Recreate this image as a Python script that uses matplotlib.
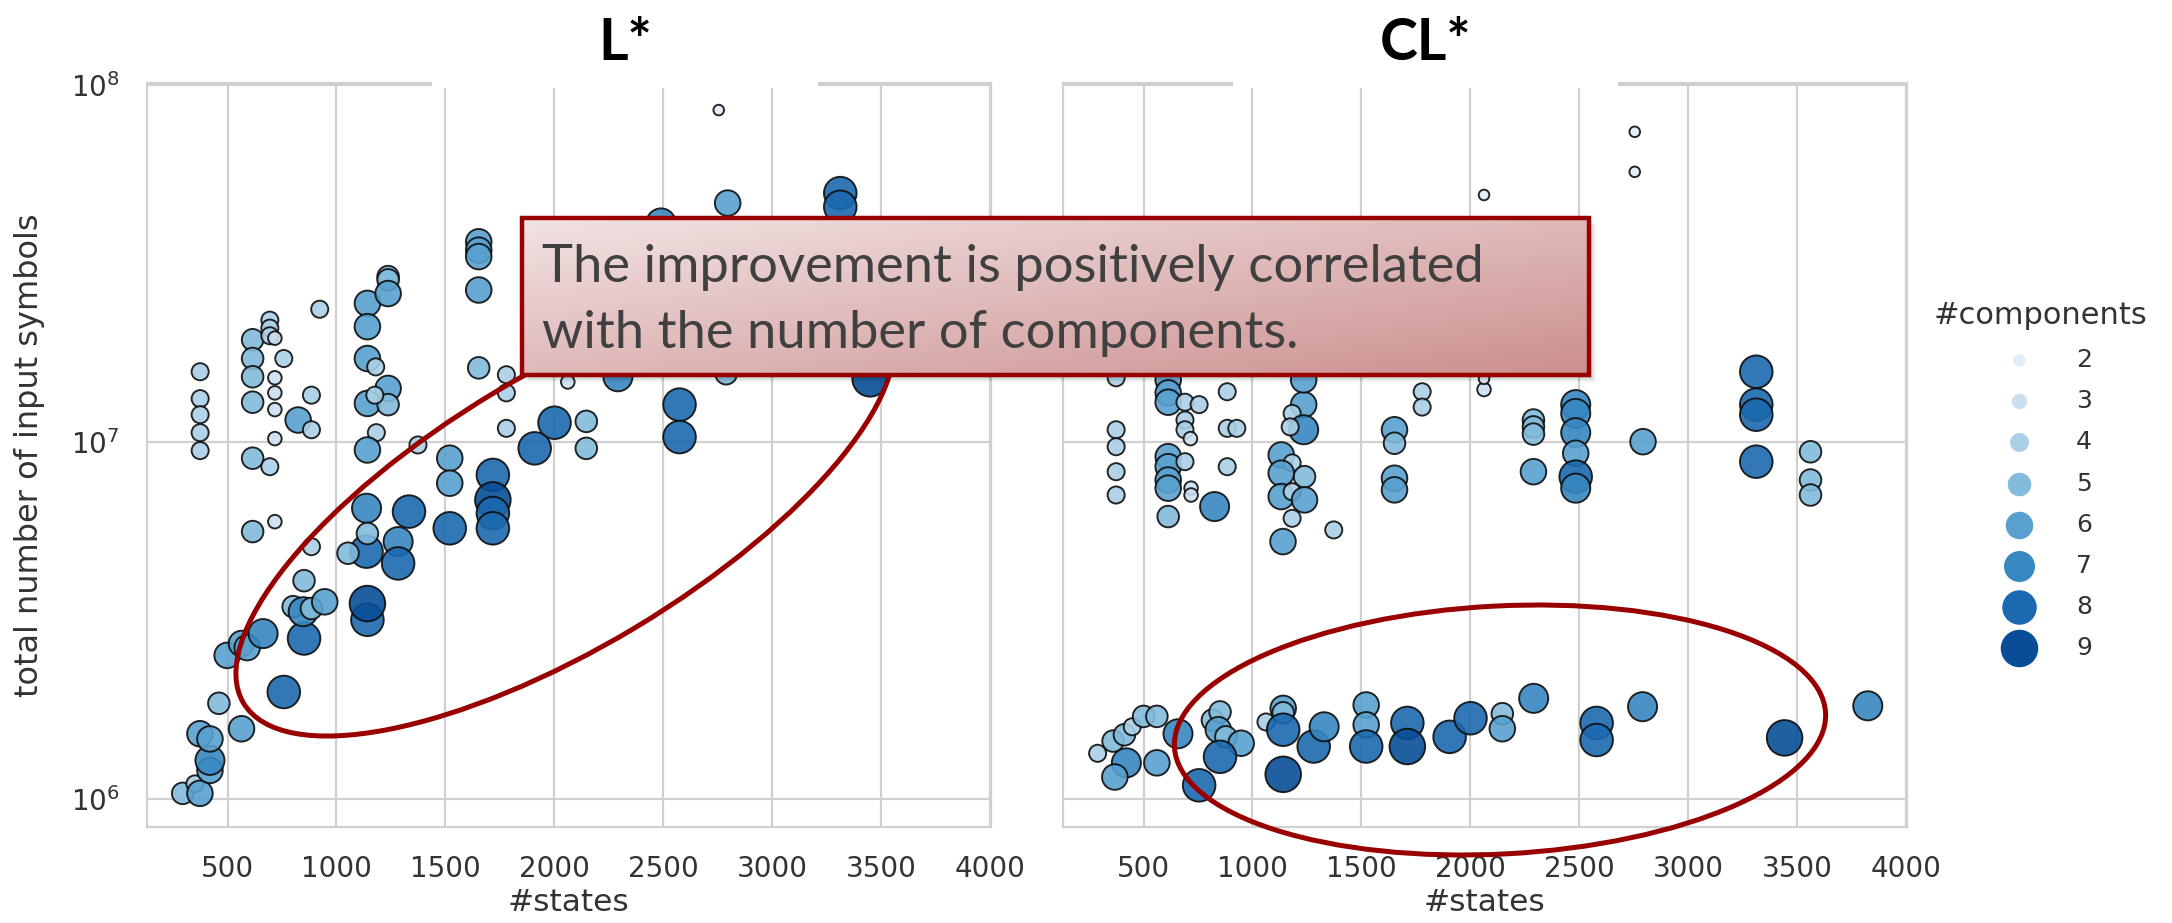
import numpy as np
import matplotlib
matplotlib.use("Agg")
import matplotlib.pyplot as plt
from matplotlib.patches import Ellipse, Rectangle
from matplotlib.lines import Line2D

# ---------------- data ----------------
# L* learner: number of states, total input symbols, number of components
lstar_states = [
    294, 350, 373, 419, 419, 373, 419, 460, 564, 758, 498, 564, 590, 663, 851,
    851, 801, 847, 885, 946, 1142, 1142,
    374, 374, 374, 374, 374,
    615, 615, 615, 615, 615, 615,
    694, 694, 694, 717, 717, 717, 717, 717, 694, 717, 758, 824, 885, 885, 923, 885,
    1142, 1142, 1142, 1180, 1237, 1237, 1237, 1142, 1237, 1237, 1176, 1183, 1142,
    1374, 1653, 1653, 1653, 1653, 1653, 1780, 1780, 1780, 2001, 1910, 2147, 2147,
    1520, 1520, 1718, 1718, 1718, 1718, 1520, 1333, 1138, 1138, 1283, 1283, 1142,
    1053, 2292, 2062, 2755, 2796, 2490, 3313, 3313, 3450, 2575, 2575, 2789,
]
lstar_symbols = [
    1.035e6, 1.10e6, 1.035e6, 1.20e6, 1.28e6, 1.52e6, 1.47e6, 1.85e6, 1.57e6, 1.99e6,
    2.52e6, 2.72e6, 2.65e6, 2.90e6, 2.81e6, 4.08e6, 3.45e6, 3.34e6, 3.41e6, 3.56e6,
    3.17e6, 3.52e6,
    1.57e7, 1.32e7, 1.19e7, 1.06e7, 9.44e6,
    1.93e7, 1.71e7, 1.52e7, 1.29e7, 8.99e6, 5.60e6,
    2.19e7, 2.08e7, 1.98e7, 1.95e7, 1.51e7, 1.37e7, 1.23e7, 1.02e7, 8.51e6, 5.97e6,
    1.71e7, 1.15e7, 1.35e7, 1.08e7, 2.35e7, 5.08e6,
    2.44e7, 2.10e7, 1.71e7, 1.62e7, 2.90e7, 2.84e7, 2.60e7, 1.28e7, 1.41e7, 1.27e7,
    1.35e7, 1.06e7, 9.48e6,
    9.79e6, 3.63e7, 3.44e7, 3.30e7, 2.66e7, 1.61e7, 1.54e7, 1.37e7, 1.09e7, 1.13e7,
    9.58e6, 1.14e7, 9.58e6,
    8.99e6, 7.65e6, 8.07e6, 6.87e6, 6.31e6, 5.72e6, 5.72e6, 6.37e6, 6.51e6, 4.92e6,
    5.25e6, 4.56e6, 5.53e6,
    4.87e6, 1.52e7, 1.47e7, 8.49e7, 4.66e7, 4.10e7, 4.97e7, 4.55e7, 1.50e7, 1.27e7,
    1.03e7, 1.55e7,
]
lstar_components = [
    5, 4, 6, 6, 7, 6, 6, 5, 6, 8, 6, 6, 6, 7, 8,
    5, 5, 7, 5, 6, 8, 9,
    4, 4, 4, 4, 4,
    5, 5, 5, 5, 5, 5,
    4, 4, 4, 3, 3, 3, 3, 3, 4, 3, 4, 6, 4, 4, 4, 4,
    6, 6, 6, 4, 5, 5, 6, 6, 6, 5, 4, 4, 6,
    4, 6, 6, 6, 6, 5, 4, 4, 4, 8, 8, 5, 5,
    6, 6, 8, 9, 8, 8, 8, 8, 7, 8, 7, 8, 5,
    5, 7, 3, 2, 6, 7, 8, 8, 9, 8, 8, 5,
]

# CL* learner
clstar_states = [
    374, 374, 374, 374, 374,
    613, 613, 613, 690, 755, 690, 690, 715,
    884, 884, 928, 884,
    613, 613, 613, 613, 690, 718, 718, 826, 613,
    1235, 1182, 1235, 1173, 1235,
    1132, 1182, 1239, 1132, 1132, 1182, 1239, 1182, 1140, 1373,
    1652, 1652, 1652, 1652, 1779, 1779,
    2063, 2063, 2063,
    2290, 2290, 2290, 2290,
    2484, 2484, 2484, 2484, 2484, 2484,
    2755, 2755, 2793,
    3313, 3313, 3313, 3313,
    3562, 3562, 3562,
    289, 360, 421, 368, 412, 448, 500, 561, 561, 658, 755, 816, 851, 843, 878,
    948, 851, 1062, 1141, 1141, 1141, 1141, 1281, 1329, 1522, 1522, 1522, 1711,
    1711, 1905, 2001, 2147, 2147, 2291, 2580, 2580, 2791, 3443, 3825,
]
clstar_symbols = [
    1.51e7, 1.08e7, 9.68e6, 8.24e6, 7.09e6,
    1.49e7, 1.37e7, 1.29e7, 1.29e7, 1.27e7, 1.15e7, 1.08e7, 1.02e7,
    1.38e7, 1.09e7, 1.09e7, 8.51e6,
    9.08e6, 8.51e6, 7.81e6, 7.41e6, 8.79e6, 7.41e6, 7.09e6, 6.58e6, 6.17e6,
    1.27e7, 1.20e7, 1.08e7, 1.10e7, 1.49e7,
    9.18e6, 8.72e6, 7.98e6, 8.16e6, 7.02e6, 7.24e6, 6.87e6, 6.10e6, 5.25e6, 5.66e6,
    1.08e7, 9.90e6, 7.90e6, 7.33e6, 1.38e7, 1.25e7,
    1.40e7, 1.50e7, 4.91e7,
    1.15e7, 1.10e7, 1.05e7, 8.24e6,
    1.27e7, 1.20e7, 1.06e7, 9.28e6, 7.98e6, 7.41e6,
    7.38e7, 5.70e7, 1.00e7,
    1.57e7, 1.27e7, 1.19e7, 8.79e6,
    9.37e6, 7.81e6, 7.09e6,
    1.34e6, 1.45e6, 1.26e6, 1.15e6, 1.51e6, 1.59e6, 1.70e6, 1.70e6, 1.26e6, 1.52e6,
    1.09e6, 1.66e6, 1.75e6, 1.56e6, 1.49e6, 1.43e6, 1.31e6, 1.64e6, 1.79e6, 1.74e6,
    1.56e6, 1.17e6, 1.40e6, 1.59e6, 1.83e6, 1.61e6, 1.40e6, 1.63e6, 1.40e6, 1.49e6,
    1.68e6, 1.73e6, 1.57e6, 1.91e6, 1.63e6, 1.46e6, 1.81e6, 1.48e6, 1.82e6,
]
clstar_components = [
    4, 4, 4, 4, 4,
    6, 6, 6, 4, 4, 4, 4, 3,
    4, 4, 4, 4,
    6, 6, 6, 6, 4, 3, 3, 7, 5,
    6, 4, 7, 4, 6,
    6, 4, 5, 6, 6, 4, 6, 4, 6, 4,
    6, 5, 6, 6, 4, 4,
    3, 2, 2,
    5, 5, 5, 6,
    7, 7, 7, 6, 8, 7,
    2, 2, 6,
    8, 8, 8, 8,
    5, 5, 5,
    4, 5, 7, 6, 5, 4, 5, 5, 6, 7, 8, 5, 5, 6, 5,
    6, 8, 4, 6, 5, 8, 9, 8, 7, 6, 6, 8, 8,
    9, 8, 8, 5, 6, 7, 8, 8, 7, 9, 7,
]

component_levels = [2, 3, 4, 5, 6, 7, 8, 9]
x_ticks = [500, 1000, 1500, 2000, 2500, 3000, 3500, 4000]

# ---------------- styling ----------------
W, H, DPI = 2172, 923, 100
plt.rcParams["font.family"] = ["DejaVu Sans"]
TEXT = "#333333"
GRID = "#d0d0d0"
DARK_RED = "#990000"

palette = plt.cm.Blues(np.linspace(0, 1, len(component_levels) + 2)[1:-1])
color_of = {c: palette[i] for i, c in enumerate(component_levels)}
diam_px = dict(zip(component_levels, [12.5, 15.5, 19, 23.5, 27.5, 31, 34.5, 37.5]))
EDGE_PX = 1.9


def marker_area(c):
    d = (diam_px[c] - EDGE_PX) * 72 / DPI
    return d * d


fig = plt.figure(figsize=(W / DPI, H / DPI), dpi=DPI)


def px_rect(x0, y0, x1, y1):
    return [x0 / W, 1 - y1 / H, (x1 - x0) / W, (y1 - y0) / H]


ax_l = fig.add_axes(px_rect(147, 83, 991, 827))
ax_r = fig.add_axes(px_rect(1063, 83, 1907, 827), sharey=ax_l)

for ax, xs, ys, cs in [
    (ax_l, lstar_states, lstar_symbols, lstar_components),
    (ax_r, clstar_states, clstar_symbols, clstar_components),
]:
    ax.scatter(xs, ys, s=[marker_area(c) for c in cs],
               c=[color_of[c] for c in cs], edgecolors="#0d0d0d",
               linewidths=EDGE_PX * 72 / DPI, alpha=0.9, zorder=3)
    ax.set_yscale("log")
    ax.set_xlim(130, 4005)
    ax.set_ylim(8.33e5, 1.011e8)
    ax.set_xticks(x_ticks)
    ax.minorticks_off()
    ax.grid(True, color=GRID, lw=1.6)
    ax.set_axisbelow(True)
    for sp in ax.spines.values():
        sp.set_color(GRID)
        sp.set_linewidth(1.6)
    ax.tick_params(length=0, pad=20, labelsize=20, labelcolor=TEXT)
    ax.set_xlabel("#states", fontsize=22.5, color=TEXT)
    ax.xaxis.set_label_coords(0.5, -0.082)

ax_r.tick_params(labelleft=False)
ax_l.set_ylabel("total number of input symbols", fontsize=23, color=TEXT)
ax_l.yaxis.set_label_coords(-0.1205, 0.5)

# panel titles on white plates that break the top frame
title_font = ["Lato", "Open Sans", "DejaVu Sans"]
for (x0, x1, xc, label) in [(432, 818, 625, "L*"), (1233, 1618, 1426, "CL*")]:
    fig.add_artist(Rectangle((x0 / DPI, (H - 88) / DPI), (x1 - x0) / DPI, 0.88,
                             transform=fig.dpi_scale_trans, fc="white",
                             ec="none", zorder=4))
    fig.text(xc / W, 1 - 60 / H, label, ha="center", va="baseline",
             fontsize=41, fontweight="bold", family=title_font, color="black",
             zorder=5)

# highlight ellipses
fig.add_artist(Ellipse((5.65, (H - 510) / DPI), 7.5, 2.74, angle=31,
                       transform=fig.dpi_scale_trans, fill=False,
                       ec=DARK_RED, lw=3.6, zorder=6))
fig.add_artist(Ellipse((15.0, (H - 730) / DPI), 6.52, 2.48, angle=3,
                       transform=fig.dpi_scale_trans, fill=False,
                       ec=DARK_RED, lw=3.6, zorder=6))

# callout box with drop shadow and gradient fill
bx0, by0, bx1, by1 = 522, 218, 1589, 375
for k in range(1, 8):
    fig.add_artist(Rectangle(((bx0 + k) / DPI, (H - by1 - k) / DPI),
                             (bx1 - bx0) / DPI, (by1 - by0) / DPI,
                             transform=fig.dpi_scale_trans, fc="black",
                             ec="none", alpha=0.035, zorder=8))
gax = fig.add_axes(px_rect(bx0, by0, bx1, by1), zorder=10)
u = np.linspace(0, 1, 400)[None, :]
v = np.linspace(0, 1, 80)[:, None]
t = 0.5 * u + 0.5 * v
c0 = np.array([0.95, 0.89, 0.89])
c1 = np.array([0.80, 0.56, 0.56])
gax.imshow(c0 + (c1 - c0) * t[..., None], extent=[0, 1, 0, 1],
           aspect="auto", origin="upper")
gax.set_axis_off()
gax.add_patch(Rectangle((0, 0), 1, 1, transform=gax.transAxes, fill=False,
                        ec=DARK_RED, lw=3.2, clip_on=False))
box_font = ["Lato", "Open Sans", "DejaVu Sans"]
fig.text(542 / W, 1 - 282 / H, "The improvement is positively correlated",
         fontsize=37.8, color="#404040", family=box_font, va="baseline", zorder=11)
fig.text(542 / W, 1 - 348 / H, "with the number of components.",
         fontsize=37.8, color="#404040", family=box_font, va="baseline", zorder=11)

# legend for component count (colour and size)
fig.text(2041 / W, 1 - 315 / H, "#components", ha="center", va="center",
         fontsize=22, color=TEXT)
for i, c in enumerate(component_levels):
    yy = 360 + 41.2 * i
    fig.add_artist(Line2D([2019 / W], [1 - yy / H], marker="o", ls="none",
                          markersize=diam_px[c] * 72 / DPI,
                          markerfacecolor=color_of[c], markeredgewidth=0,
                          transform=fig.transFigure))
    fig.text(2076 / W, 1 - yy / H, str(c), ha="left", va="center",
             fontsize=18, color=TEXT)

fig.savefig("out.png", dpi=DPI, facecolor="white")
